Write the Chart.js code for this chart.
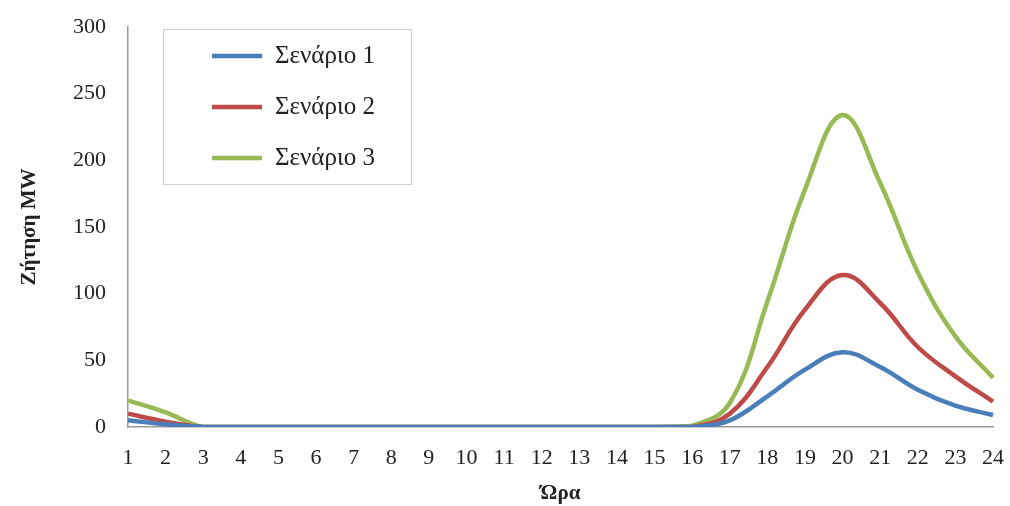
<!DOCTYPE html>
<html>
<head>
<meta charset="utf-8">
<script src="https://cdn.jsdelivr.net/npm/chart.js@4.4.0/dist/chart.umd.min.js"></script>
<style>
  html, body { margin: 0; padding: 0; background: #fff; }
  #wrap { width: 1010px; height: 506px; position: relative; }
</style>
</head>
<body>
<div id="wrap"><canvas id="demandChart"></canvas></div>
<script>
const hours = ['1','2','3','4','5','6','7','8','9','10','11','12','13','14','15','16','17','18','19','20','21','22','23','24'];
const scenario1 = [5, 2, 0, 0, 0, 0, 0, 0, 0, 0, 0, 0, 0, 0, 0, 0, 5, 23, 43, 56, 45, 28, 16, 9];
const scenario2 = [10, 4, 0, 0, 0, 0, 0, 0, 0, 0, 0, 0, 0, 0, 0, 0, 10, 45, 88, 114, 93, 60, 38, 19];
const scenario3 = [20, 11, 0, 0, 0, 0, 0, 0, 0, 0, 0, 0, 0, 0, 0, 1, 18, 94, 178, 234, 183, 116, 68, 37];
const seriesNames = ['Σενάριο 1', 'Σενάριο 2', 'Σενάριο 3'];
const seriesColors = ['#4a7ebb', '#be4b48', '#98b954'];

const serif = '"Liberation Serif", "Times New Roman", serif';

// legend drawn inside the plot, boxed like the original
const boxLegend = {
    id: 'boxLegend',
    afterDraw(chart) {
        const ctx = chart.ctx;
        const x = 163, y = 29, w = 248, h = 155;
        ctx.save();
        ctx.strokeStyle = '#d0d0d0';
        ctx.lineWidth = 1;
        ctx.strokeRect(x + 0.5, y + 0.5, w, h);
        ctx.font = '25px ' + serif;
        ctx.textBaseline = 'middle';
        chart.data.datasets.forEach((ds, i) => {
            const rowY = y + 27 + i * 51;
            ctx.strokeStyle = ds.borderColor;
            ctx.lineWidth = 4.5;
            ctx.beginPath();
            ctx.moveTo(x + 49, rowY);
            ctx.lineTo(x + 99, rowY);
            ctx.stroke();
            ctx.fillStyle = '#222';
            ctx.fillText(ds.label, x + 112, rowY);
        });
        ctx.restore();
    }
};

// invisible tick marks keep the label gap without widening the outer padding
const hiddenTicks = (len) => ({
    display: true,
    drawOnChartArea: false,
    drawTicks: true,
    tickLength: len,
    color: 'rgba(0,0,0,0)',
    tickColor: 'rgba(0,0,0,0)'
});

new Chart(document.getElementById('demandChart'), {
    type: 'line',
    data: {
        labels: hours,
        datasets: [scenario1, scenario2, scenario3].map((vals, i) => ({
            label: seriesNames[i],
            data: vals,
            borderColor: seriesColors[i],
            backgroundColor: seriesColors[i],
            borderWidth: 4.5,
            pointRadius: 0,
            tension: 0.4,
            fill: false
        }))
    },
    options: {
        responsive: true,
        maintainAspectRatio: false,
        animation: false,
        layout: { padding: { top: 27, right: 17, left: 0, bottom: 0 } },
        plugins: {
            legend: { display: false },
            tooltip: { enabled: false }
        },
        scales: {
            x: {
                offset: false,
                grid: hiddenTicks(16),
                border: { display: true, color: '#9a9a9a', width: 1.5 },
                ticks: { color: '#222', font: { family: serif, size: 22 }, padding: 2, maxRotation: 0, autoSkip: false },
                title: { display: true, text: 'Ώρα', color: '#222', font: { family: serif, size: 21, weight: 'bold' }, padding: { top: 12, bottom: 0 } },
                afterFit(scale) { scale.height = 79; }
            },
            y: {
                min: 0,
                max: 300,
                grid: hiddenTicks(20),
                border: { display: true, color: '#9a9a9a', width: 1.5 },
                ticks: { stepSize: 50, color: '#222', font: { family: serif, size: 22 }, padding: 2 },
                title: { display: true, text: 'Ζήτηση MW', color: '#222', font: { family: serif, size: 21, weight: 'bold' }, padding: { top: 17, bottom: 0 } },
                afterFit(scale) { scale.width = 128; }
            }
        }
    },
    plugins: [boxLegend]
});
</script>
</body>
</html>
